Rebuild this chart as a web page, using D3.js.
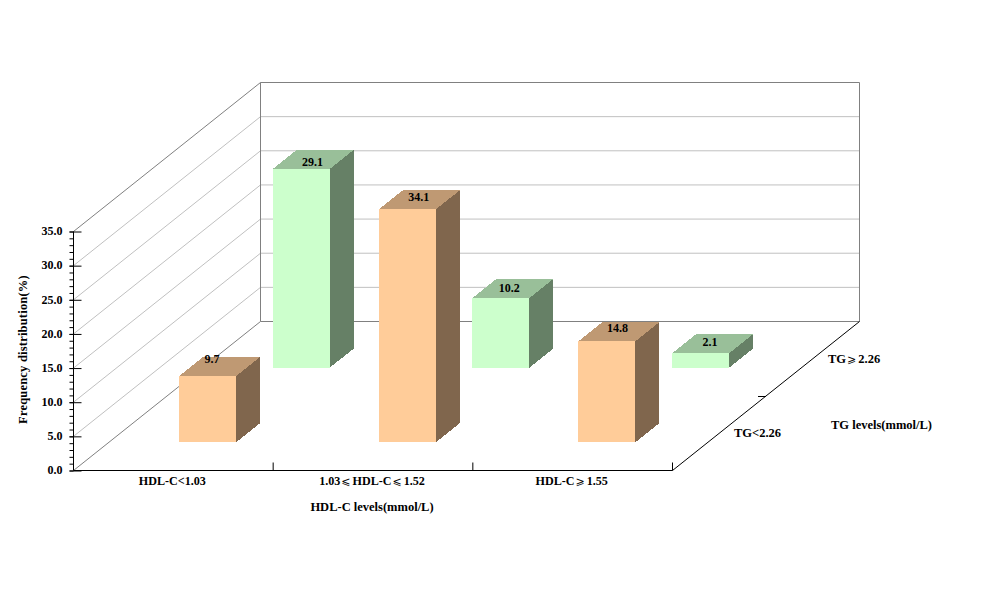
<!DOCTYPE html>
<html>
<head>
<meta charset="utf-8">
<script src="https://cdn.jsdelivr.net/npm/d3@7"></script>
<style>
body { margin: 0; background: #fff; }
text { font-family: "Liberation Serif", serif; font-weight: bold; font-size: 12.5px; fill: #000; }
.x-label { font-size: 12.1px; }
.bar polygon { shape-rendering: crispEdges; }
</style>
</head>
<body>
<svg id="chart" width="981" height="615"></svg>
<script>
var hdlLevels = ["HDL-C<1.03", "1.03⩽HDL-C⩽1.52", "HDL-C⩾1.55"];
var tgLevels = ["TG<2.26", "TG⩾2.26"];
var lowTgValues = [9.7, 34.1, 14.8];
var highTgValues = [29.1, 10.2, 2.1];
var yTicks = [0, 5, 10, 15, 20, 25, 30, 35];
var yMinorTicks = d3.range(0, 36);

var faces = {
    "TG<2.26": {front: "#FFCC99", top: "#BF9973", side: "#80664D"},
    "TG⩾2.26": {front: "#CCFFCC", top: "#99BF99", side: "#668066"}
};

// the value labels sit a bit off the top face centre in the original
var labelNudge = {"9.7": [-7, -5], "34.1": [0, 0], "14.8": [-1, -1.5], "29.1": [0, 5], "10.2": [-3, 1.5], "2.1": [-2, 1]};

var depthX = 187, depthY = 149;
var barShare = 0.2855, barDepth = 0.128;

var svg = d3.select("#chart");

var x = d3.scaleBand().domain(hdlLevels).range([73.5, 672.5]);
var y = d3.scaleLinear().domain([0, 35]).range([470.5, 231.5]);
var z = d3.scaleBand().domain(tgLevels).range([0, 1]);

// screen position of a point: px along the front edge, d = 0..1 into the depth, v = value
function project(px, d, v)
{
    return [px + d * depthX, y(v) - d * depthY];
}

function wallLine(x1, y1, x2, y2, color)
{
    svg.append("line")
        .attr("x1", x1).attr("y1", y1)
        .attr("x2", x2).attr("y2", y2)
        .attr("stroke", color);
}

// the slanted comparison signs need a little room around them
function labelText(sel, label)
{
    label.split(/([⩽⩾])/).forEach(function(part, i){
        if(part == "") return;
        var t = sel.append("tspan").text(part);
        if(i % 2 == 1)
            t.attr("dx", 1).style("font-family", "DejaVu Sans").style("font-size", "11px").style("font-weight", "normal");
        else if(i > 0)
            t.attr("dx", 2);
    });
}

var left = x.range()[0], right = x.range()[1];

// gridlines on both walls
yTicks.forEach(function(t){
    var a = project(left, 0, t), b = project(left, 1, t), c = project(right, 1, t);
    var edge = t == 0 || t == 35;
    wallLine(a[0], a[1], b[0], b[1], edge ? "#808080" : "#C0C0C0");
    wallLine(b[0], b[1], c[0], c[1], edge ? "#808080" : "#C0C0C0");
});
var backTop = project(left, 1, 35), backBottom = project(left, 1, 0);
wallLine(backTop[0], backTop[1], backBottom[0], backBottom[1], "#808080");
var backTopR = project(right, 1, 35), backBottomR = project(right, 1, 0);
wallLine(backTopR[0], backTopR[1], backBottomR[0], backBottomR[1], "#808080");

// y axis
svg.append("g")
    .attr("transform", "translate(" + left + ",0)")
    .call(d3.axisLeft(y).tickValues(yMinorTicks).tickSize(4).tickFormat(""))
    .call(function(g){ g.select(".domain").remove(); });
var yAxis = svg.append("g")
    .attr("transform", "translate(" + left + ",0)")
    .call(d3.axisLeft(y).tickValues(yTicks).tickSize(4).tickPadding(7).tickFormat(d3.format(".1f")));
yAxis.select(".domain").attr("d", "M0," + y(35) + "V" + y(0));
yAxis.selectAll(".tick line").attr("x1", -4).attr("x2", 8);
yAxis.selectAll("text").attr("dy", "0.27em").style("font-family", "Liberation Serif").style("font-size", "12px");

// x axis
var xEdges = hdlLevels.map(function(h){ return x(h); }).concat([right]);
svg.append("line").attr("x1", left).attr("x2", right).attr("y1", y(0)).attr("y2", y(0)).attr("stroke", "#000");
svg.selectAll(".x-tick").data(xEdges.slice(1)).enter().append("line")
    .attr("class", "x-tick")
    .attr("x1", function(d){ return d; }).attr("x2", function(d){ return d; })
    .attr("y1", y(0)).attr("y2", y(0) - 8)
    .attr("stroke", "#000");
svg.selectAll(".x-label").data(hdlLevels).enter().append("text")
    .attr("class", "x-label")
    .attr("x", function(d){ return x(d) + x.bandwidth() / 2 - 1; })
    .attr("y", 485)
    .attr("text-anchor", "middle")
    .each(function(d){ labelText(d3.select(this), d); });

// depth axis
var depthStart = project(right, 0, 0), depthEnd = project(right, 1, 0);
wallLine(depthStart[0], depthStart[1], depthEnd[0], depthEnd[1], "#000");
var depthMid = project(right, 0.5, 0);
wallLine(depthMid[0] - 8, Math.round(depthMid[1]) + 0.5, depthMid[0], Math.round(depthMid[1]) + 0.5, "#000");

svg.append("text").attr("x", 734).attr("y", 437).text(tgLevels[0]);
labelText(svg.append("text").attr("x", 828).attr("y", 362.5), tgLevels[1]);
svg.append("text").attr("x", 831).attr("y", 429).text("TG levels(mmol/L)");
svg.append("text").attr("x", 372).attr("y", 511).attr("text-anchor", "middle").text("HDL-C levels(mmol/L)");
svg.append("text")
    .attr("transform", "translate(27,349.5) rotate(-90)")
    .attr("text-anchor", "middle")
    .style("letter-spacing", "0.2px")
    .text("Frequency distribution(%)");

// bars, back row first
var bars = [];
hdlLevels.forEach(function(h, i){ bars.push({hdl: h, tg: tgLevels[1], value: highTgValues[i]}); });
hdlLevels.forEach(function(h, i){ bars.push({hdl: h, tg: tgLevels[0], value: lowTgValues[i]}); });

function pts(list)
{
    return list.map(function(p){ return (p[0] - 0.5) + "," + (p[1] - 0.5); }).join(" ");
}

var barW = x.bandwidth() * barShare;
var barG = svg.selectAll(".bar").data(bars).enter().append("g").attr("class", "bar");

barG.each(function(b){
    var g = d3.select(this);
    var x0 = x(b.hdl) + x.bandwidth() / 2 - barW / 2, x1 = x0 + barW;
    var d0 = z(b.tg) + z.bandwidth() / 2 - barDepth / 2, d1 = d0 + barDepth;
    var c = faces[b.tg];
    g.append("polygon").attr("fill", c.side)
        .attr("points", pts([project(x1, d0, 0), project(x1, d1, 0), project(x1, d1, b.value), project(x1, d0, b.value)]));
    g.append("polygon").attr("fill", c.top)
        .attr("points", pts([project(x0, d0, b.value), project(x1, d0, b.value), project(x1, d1, b.value), project(x0, d1, b.value)]));
    g.append("polygon").attr("fill", c.front)
        .attr("points", pts([project(x0, d0, 0), project(x1, d0, 0), project(x1, d0, b.value), project(x0, d0, b.value)]));
    var mid = project((x0 + x1) / 2, (d0 + d1) / 2, b.value);
    var nudge = labelNudge[String(b.value)];
    g.append("text")
        .attr("x", mid[0] - 1 + nudge[0])
        .attr("y", mid[1] + 1 + nudge[1])
        .attr("text-anchor", "middle")
        .style("font-size", "12px")
        .text(d3.format(".1f")(b.value));
});
</script>
</body>
</html>
